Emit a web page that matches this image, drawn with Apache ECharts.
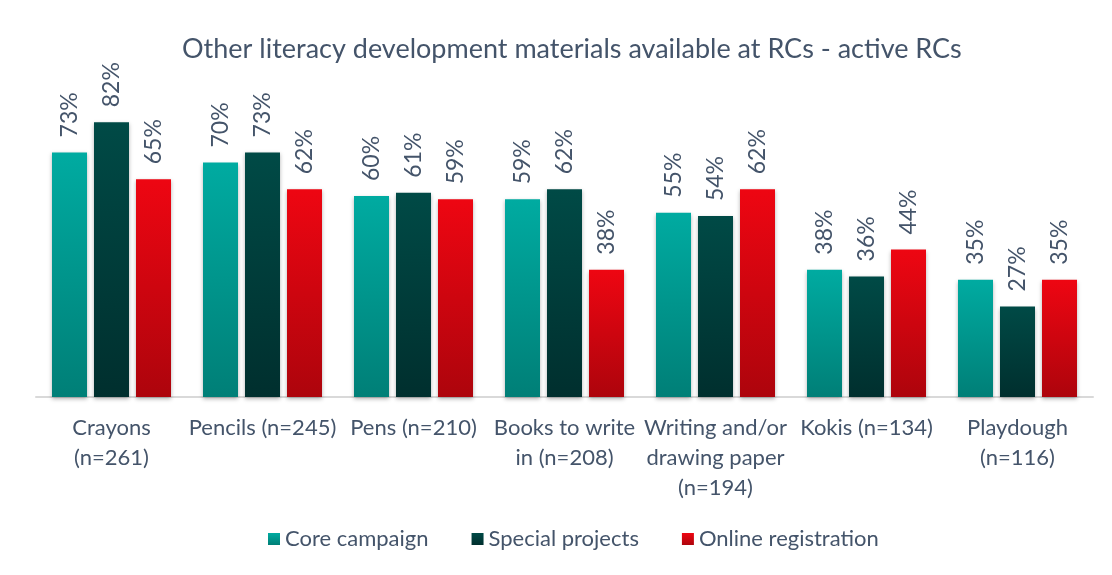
<!DOCTYPE html>
<html>
<head>
<meta charset="utf-8">
<script src="https://cdn.jsdelivr.net/npm/echarts@6/dist/echarts.min.js"></script>
<style>
  html, body { margin: 0; padding: 0; background: #fff; }
  #chart { width: 1112px; height: 575px; }
</style>
</head>
<body>
<div id="chart"></div>
<script>
const categories = [
  'Crayons\n(n=261)',
  'Pencils (n=245)',
  'Pens (n=210)',
  'Books to write\nin (n=208)',
  'Writing and/or\ndrawing paper\n(n=194)',
  'Kokis (n=134)',
  'Playdough\n(n=116)',
]

const core = [73, 70, 60, 59, 55, 38, 35]
const special = [82, 73, 61, 62, 54, 36, 27]
const online = [65, 62, 59, 38, 62, 44, 35]

const textColor = '#44546a'
const font = 'Lato'

// vertical gradient for each series
function grad(top, bottom) {
  return new echarts.graphic.LinearGradient(0, 0, 0, 1, [
    { offset: 0, color: top },
    { offset: 1, color: bottom },
  ])
}

function barSeries(name, data, top, bottom) {
  return {
    name: name,
    type: 'bar',
    data: data,
    barWidth: 35,
    barGap: '20%',
    itemStyle: {
      color: grad(top, bottom),
      shadowColor: 'rgba(0,0,0,0.3)',
      shadowBlur: 4,
      shadowOffsetY: 2,
    },
    label: {
      show: true,
      position: 'top',
      rotate: 90,
      align: 'left',
      verticalAlign: 'middle',
      distance: 15,
      formatter: '{c}%',
      color: textColor,
      fontFamily: font,
      fontSize: 23,
    },
  }
}

echarts.init(document.getElementById('chart')).setOption({
  animation: false,
  title: {
    text: 'Other literacy development materials available at RCs - active RCs',
    left: 177,
    top: 31,
    textStyle: {
      color: textColor,
      fontFamily: font,
      fontSize: 27,
      fontWeight: 'normal',
    },
  },
  legend: {
    top: 523,
    left: 263,
    itemWidth: 12,
    itemHeight: 12,
    itemGap: 43,
    icon: 'rect',
    textStyle: {
      color: textColor,
      fontFamily: font,
      fontSize: 22,
    },
  },
  grid: {
    top: 62,
    bottom: 178,
    left: 36,
    right: 19,
  },
  xAxis: {
    type: 'category',
    data: categories,
    axisLine: { lineStyle: { color: '#d9d9d9', width: 2 } },
    axisTick: { show: false },
    axisLabel: {
      interval: 0,
      color: textColor,
      fontFamily: font,
      fontSize: 22,
      lineHeight: 30,
      margin: 16,
    },
  },
  yAxis: {
    type: 'value',
    min: 0,
    max: 100,
    show: false,
  },
  series: [
    barSeries('Core campaign', core, '#00aba1', '#007f77'),
    barSeries('Special projects', special, '#004a46', '#002f2e'),
    barSeries('Online registration', online, '#ee0612', '#ad040c'),
  ],
})
</script>
</body>
</html>
